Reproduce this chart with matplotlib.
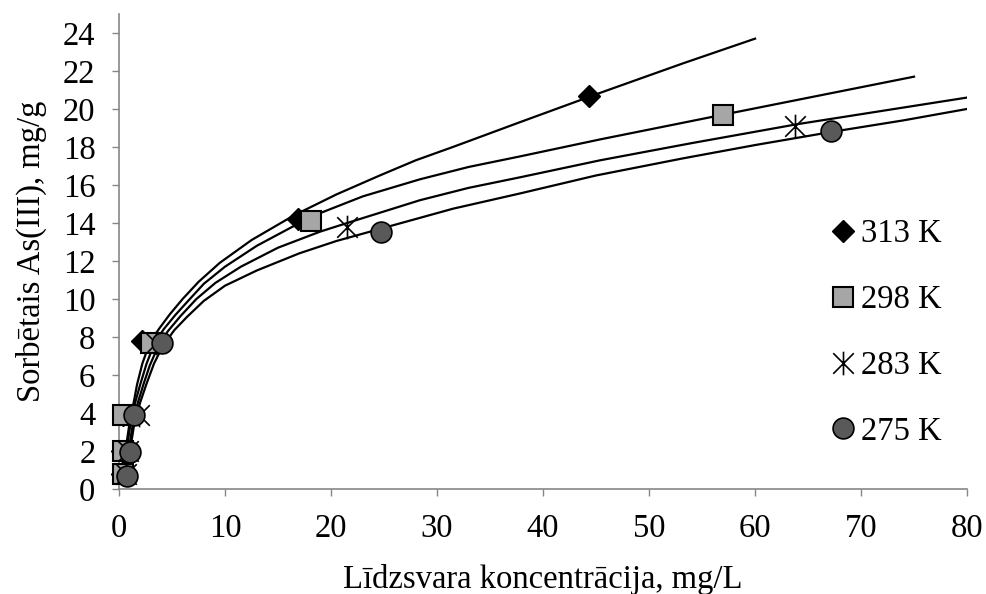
import matplotlib
matplotlib.use("Agg")
import matplotlib.pyplot as plt
from matplotlib.path import Path

plt.rcParams["font.family"] = ["Liberation Serif", "DejaVu Serif"]

# measured points
temps = ["313 K", "298 K", "283 K", "275 K"]
x_313 = [0.3, 0.3, 0.4, 2.2, 16.9, 44.3]
y_313 = [0.8, 2.0, 3.9, 7.8, 14.2, 20.7]
x_298 = [0.4, 0.4, 0.4, 3.0, 18.1, 57.0]
y_298 = [0.8, 2.0, 3.9, 7.7, 14.1, 19.7]
x_283 = [0.7, 0.8, 1.9, 3.5, 21.5, 63.8]
y_283 = [0.8, 2.0, 3.9, 7.7, 13.8, 19.1]
x_275 = [0.75, 1.0, 1.4, 4.1, 24.7, 67.2]
y_275 = [0.7, 1.95, 3.9, 7.7, 13.5, 18.85]

# fitted curves
cx_313 = [0.35, 0.6, 1.0, 1.4, 1.7, 2.2, 2.9, 3.8, 4.8, 6.0, 7.5, 9.5, 12.5, 16.5, 20.5, 24.6, 28.0, 31.5, 37.8, 45.4, 53.2, 60.0]
cy_313 = [0.8, 2.0, 3.5, 4.6, 5.5, 6.6, 7.7, 8.45, 9.2, 10.0, 10.9, 11.9, 13.1, 14.4, 15.5, 16.5, 17.3, 18.0, 19.3, 20.85, 22.4, 23.7]
cx_298 = [0.4, 0.7, 1.1, 1.5, 2.0, 2.6, 3.3, 4.2, 5.3, 6.6, 8.0, 10.0, 13.0, 18.2, 23.0, 28.4, 33.0, 37.8, 45.4, 57.0, 64.2, 75.0]
cy_298 = [0.8, 2.0, 3.5, 4.5, 5.5, 6.6, 7.6, 8.4, 9.15, 9.95, 10.8, 11.7, 12.8, 14.35, 15.4, 16.3, 16.95, 17.5, 18.4, 19.7, 20.5, 21.7]
cx_283 = [0.6, 0.9, 1.3, 1.7, 2.3, 2.9, 3.6, 4.6, 5.8, 7.3, 9.1, 11.5, 15.0, 19.0, 22.1, 28.4, 33.0, 37.8, 45.4, 54.0, 64.0, 72.0, 80.0]
cy_283 = [0.8, 2.0, 3.4, 4.4, 5.5, 6.5, 7.4, 8.3, 9.1, 10.0, 10.85, 11.7, 12.7, 13.55, 14.1, 15.2, 15.85, 16.4, 17.3, 18.2, 19.2, 19.9, 20.6]
cx_275 = [0.75, 1.0, 1.4, 1.9, 2.6, 3.3, 4.1, 5.2, 6.4, 8.0, 10.0, 13.0, 17.0, 20.5, 24.7, 31.5, 37.8, 45.0, 53.2, 60.0, 67.3, 74.0, 80.0]
cy_275 = [0.7, 1.9, 3.3, 4.4, 5.55, 6.6, 7.5, 8.35, 9.05, 9.9, 10.7, 11.5, 12.4, 13.05, 13.7, 14.75, 15.55, 16.5, 17.4, 18.1, 18.8, 19.4, 20.0]

x_ticks = [0, 10, 20, 30, 40, 50, 60, 70, 80]
y_ticks = [0, 2, 4, 6, 8, 10, 12, 14, 16, 18, 20, 22, 24]

# excel style star: X with a vertical bar
star = Path([(-1, -1), (1, 1), (-1, 1), (1, -1), (0, -1.15), (0, 1.15)],
            [Path.MOVETO, Path.LINETO, Path.MOVETO, Path.LINETO, Path.MOVETO, Path.LINETO])

styles = [
    dict(marker="D", ms=11.5, mfc="black", mec="black", mew=1.0),
    dict(marker="s", ms=14.5, mfc="#a6a6a6", mec="black", mew=1.5),
    dict(marker=star, ms=17, mfc="none", mec="black", mew=1.2),
    dict(marker="o", ms=15, mfc="#595959", mec="black", mew=1.2),
]

fig = plt.figure(figsize=(9.87, 5.94), dpi=100)
ax = fig.add_axes([0.1206, 0.1768, 0.8592, 0.7997])

curves = [(cx_313, cy_313), (cx_298, cy_298), (cx_283, cy_283), (cx_275, cy_275)]
for cx, cy in curves:
    ax.plot(cx, cy, color="black", lw=1.6, zorder=2, solid_joinstyle="round")

points = [(x_313, y_313), (x_298, y_298), (x_283, y_283), (x_275, y_275)]
handles = []
for i, ((px, py), st, lab) in enumerate(zip(points, styles, temps)):
    h, = ax.plot(px, py, ls="none", label=lab, zorder=3 + i, clip_on=False, **st)
    handles.append(h)

ax.set_xlim(0, 80)
ax.set_ylim(0, 25)
ax.set_xticks(x_ticks)
ax.set_yticks(y_ticks)

for side in ["top", "right"]:
    ax.spines[side].set_visible(False)
for side in ["left", "bottom"]:
    ax.spines[side].set_color("#868686")
    ax.spines[side].set_linewidth(1.2)

ax.tick_params(axis="both", direction="out", length=5, width=1, color="#868686", labelsize=23.5)
ax.tick_params(axis="x", pad=13)
ax.tick_params(axis="y", pad=12)

ax.set_xlabel("Līdzsvara koncentrācija, mg/L", fontsize=23.5, labelpad=14)
ax.set_ylabel("Sorbētais As(III), mg/g", fontsize=23.5, labelpad=11)

ax.legend(handles=handles, loc="upper left", bbox_to_anchor=(830 / 987, 1 - 219 / 594),
          bbox_transform=fig.transFigure, frameon=False, fontsize=23.5, numpoints=1,
          handlelength=0.8, handletextpad=0.15, labelspacing=1.08, borderpad=0, borderaxespad=0)

fig.savefig("out.png", dpi=100)
